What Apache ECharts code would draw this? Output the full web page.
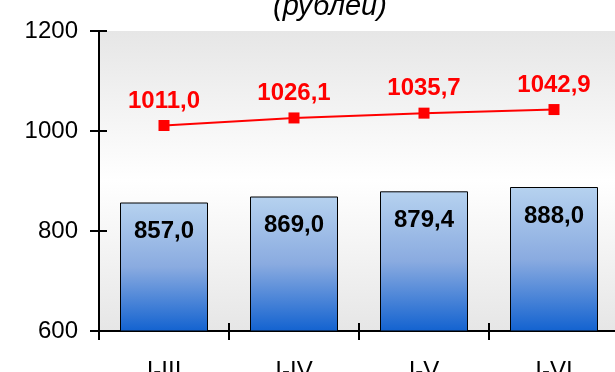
<!DOCTYPE html>
<html>
<head>
<meta charset="utf-8">
<script src="https://cdn.jsdelivr.net/npm/echarts@6/dist/echarts.min.js"></script>
<style>html,body{margin:0;padding:0;background:#fff;}#c{width:615px;height:372px;}</style>
</head>
<body>
<div id="c"></div>
<script>
const categories = ['I-III', 'I-IV', 'I-V', 'I-VI'];
const barValues = [857.0, 869.0, 879.4, 888.0];
const lineValues = [1011.0, 1026.1, 1035.7, 1042.9];
const titleText = '(рублей)';

const FONT = 'Liberation Sans, Arial, sans-serif';
const fmt = v => v.toFixed(1).replace('.', ',');
const chart = echarts.init(document.getElementById('c'), null, {renderer: 'canvas'});

const baseX = {
  type: 'category', data: categories, boundaryGap: true,
  axisLine: {show: true, lineStyle: {color: '#000', width: 2}},
  splitLine: {show: false}
};
const baseY = {
  type: 'value', min: 600, max: 1200, interval: 200,
  axisLine: {show: true, lineStyle: {color: '#000', width: 2}},
  splitLine: {show: false}
};

chart.setOption({
  animation: false,
  backgroundColor: '#fff',
  title: {
    text: titleText, left: 268, top: -13,
    textStyle: {fontFamily: FONT, fontSize: 29, fontStyle: 'italic', fontWeight: 'normal', color: '#000'}
  },
  grid: {
    left: 99, top: 31, bottom: 41, width: 520,
    outerBoundsMode: 'none', containLabel: false,
    show: true, borderWidth: 0,
    backgroundColor: new echarts.graphic.LinearGradient(0, 0, 0, 1, [
      {offset: 0, color: '#e6e6e6'},
      {offset: 0.5, color: '#ffffff'},
      {offset: 1, color: '#e6e6e6'}
    ])
  },
  xAxis: [
    Object.assign({}, baseX, {
      axisTick: {show: true, inside: false, length: 9, lineStyle: {color: '#000', width: 2}},
      axisLabel: {fontFamily: FONT, fontSize: 24, color: '#000', margin: 28}
    }),
    Object.assign({}, baseX, {
      axisTick: {show: true, inside: true, length: 8, lineStyle: {color: '#000', width: 2}},
      axisLabel: {show: false}, position: 'bottom'
    })
  ],
  yAxis: [
    Object.assign({}, baseY, {
      axisTick: {show: true, inside: false, length: 9, lineStyle: {color: '#000', width: 2}},
      axisLabel: {fontFamily: FONT, fontSize: 24, color: '#000', margin: 21, formatter: v => String(v)}
    }),
    Object.assign({}, baseY, {
      position: 'left',
      axisTick: {show: true, inside: true, length: 8, lineStyle: {color: '#000', width: 2}},
      axisLabel: {show: false}
    })
  ],
  series: [
    {
      type: 'bar', data: barValues, barWidth: 88, xAxisIndex: 0, yAxisIndex: 0,
      itemStyle: {
        borderColor: '#000', borderWidth: 1,
        color: new echarts.graphic.LinearGradient(0, 0, 0, 1, [
          {offset: 0, color: '#b6d2ef'},
          {offset: 0.5, color: '#8aabe0'},
          {offset: 1, color: '#1262d0'}
        ])
      },
      label: {
        show: true, position: 'insideTop', distance: 17,
        formatter: p => fmt(p.value),
        fontFamily: FONT, fontSize: 24, fontWeight: 'bold', color: '#000'
      }
    },
    {
      type: 'line', data: lineValues, xAxisIndex: 0, yAxisIndex: 0,
      symbol: 'rect', symbolSize: 11,
      lineStyle: {color: '#ff0000', width: 2},
      itemStyle: {color: '#ff0000'},
      label: {
        show: true, position: 'top', distance: 7,
        formatter: p => fmt(p.value),
        fontFamily: FONT, fontSize: 24, fontWeight: 'bold', color: '#ff0000'
      }
    }
  ]
});
</script>
</body>
</html>
